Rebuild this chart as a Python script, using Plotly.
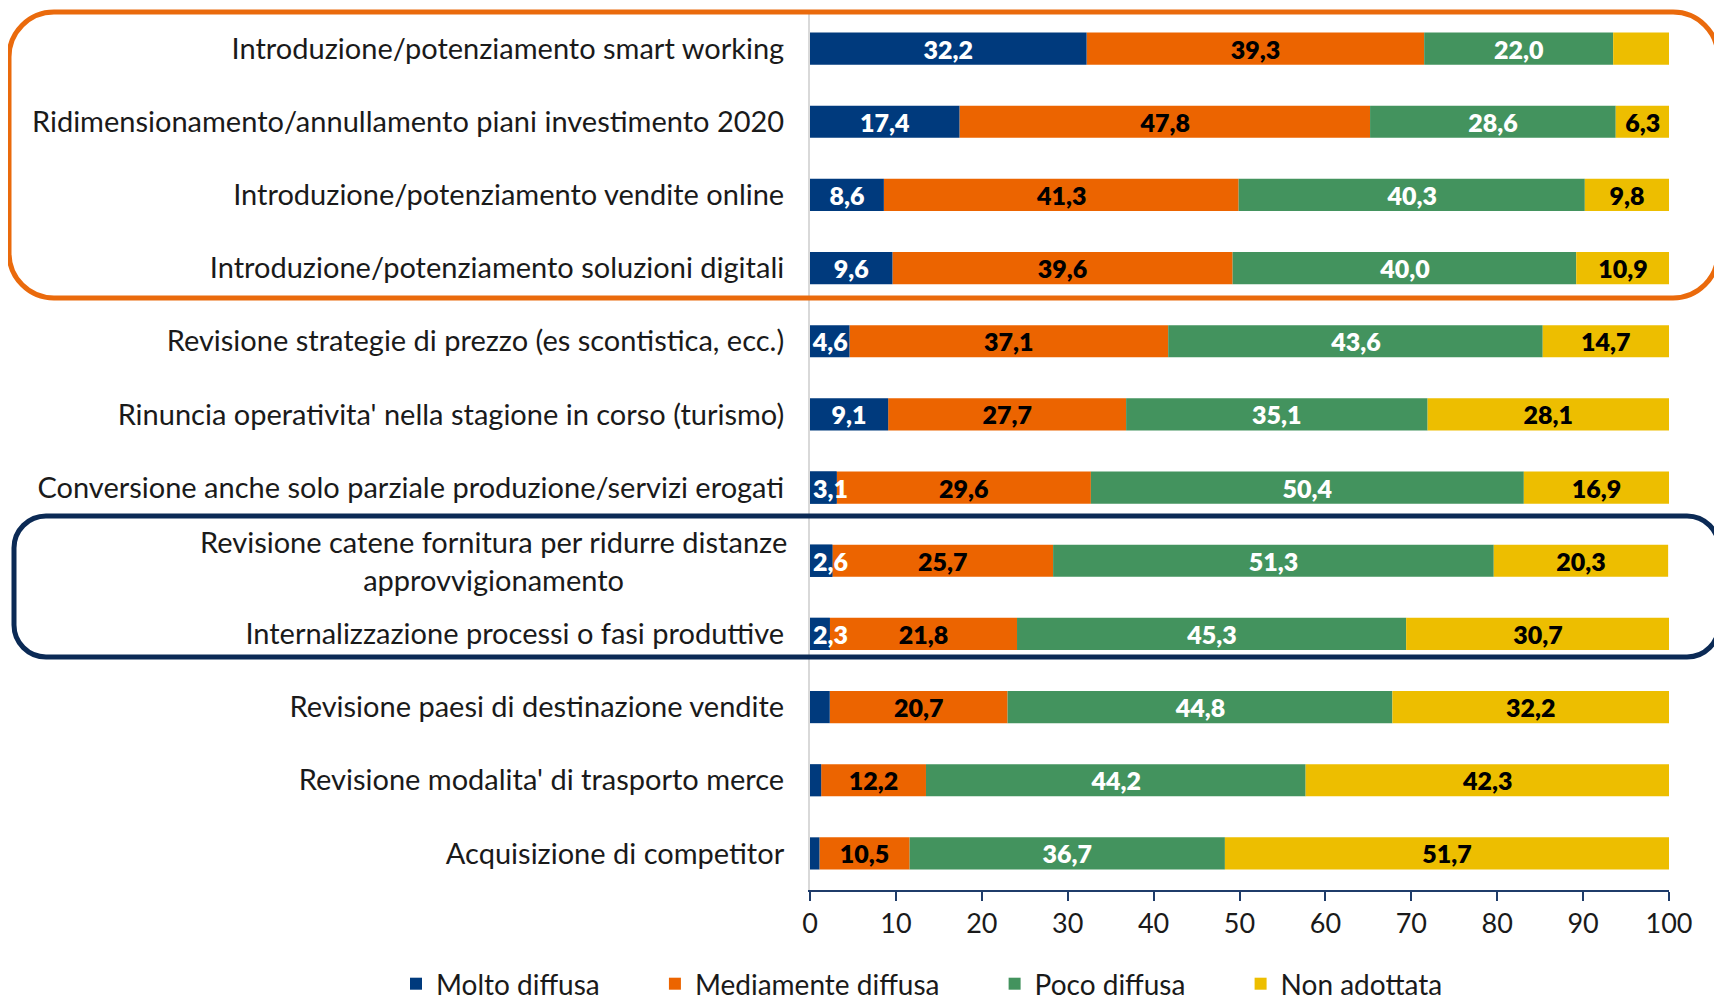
import plotly.graph_objects as go

categories = [
    "Introduzione/potenziamento smart working",
    "Ridimensionamento/annullamento piani investimento 2020",
    "Introduzione/potenziamento vendite online",
    "Introduzione/potenziamento soluzioni digitali",
    "Revisione strategie di prezzo (es scontistica, ecc.)",
    "Rinuncia operativita' nella stagione in corso (turismo)",
    "Conversione anche solo parziale produzione/servizi erogati",
    "Revisione catene fornitura per ridurre distanze<br>approvvigionamento",
    "Internalizzazione processi o fasi produttive",
    "Revisione paesi di destinazione vendite",
    "Revisione modalita' di trasporto merce",
    "Acquisizione di competitor",
]

series_names = ["Molto diffusa", "Mediamente diffusa", "Poco diffusa", "Non adottata"]
molto = [32.2, 17.4, 8.6, 9.6, 4.6, 9.1, 3.1, 2.6, 2.3, 2.3, 1.3, 1.1]
mediamente = [39.3, 47.8, 41.3, 39.6, 37.1, 27.7, 29.6, 25.7, 21.8, 20.7, 12.2, 10.5]
poco = [22.0, 28.6, 40.3, 40.0, 43.6, 35.1, 50.4, 51.3, 45.3, 44.8, 44.2, 36.7]
non_adottata = [6.5, 6.3, 9.8, 10.9, 14.7, 28.1, 16.9, 20.3, 30.7, 32.2, 42.3, 51.7]

# labels not printed in the original: (series index, category index)
hidden_labels = [(3, 0), (0, 9), (0, 10), (0, 11)]

colors = ["#003A7D", "#EC6400", "#43935E", "#EDBE00"]
label_colors = ["white", "black", "white", "black"]

FONT = "Lato"
LABEL_SIZE = 25
NARROW = 4.0  # labels of narrower bars start at the bar's left edge


def fmt(v):
    return f"{v:.1f}".replace(".", ",")


all_series = [molto, mediamente, poco, non_adottata]

# stacked bars with explicit bases, so that the first series (whose labels
# overflow their narrow bars) can be drawn last, on top of the others
bases = []
running = [0.0] * len(categories)
for vals in all_series:
    bases.append(list(running))
    running = [r + v for r, v in zip(running, vals)]

NB = "\u00a0" * 7
legend_names = [series_names[0] + NB, series_names[1] + NB, series_names[2] + NB, series_names[3]]

fig = go.Figure()
for s in [1, 2, 3, 0]:
    vals = all_series[s]
    texts = []
    for c, v in enumerate(vals):
        if (s, c) in hidden_labels or (s == 0 and v < NARROW):
            texts.append("")
        else:
            texts.append(fmt(v))
    fig.add_trace(go.Bar(
        y=categories, x=vals, base=bases[s], name=legend_names[s], orientation="h",
        legendrank=s + 1,
        marker=dict(color=colors[s], line=dict(width=0)),
        text=texts, textposition="inside", insidetextanchor="middle",
        textangle=0, cliponaxis=True,
        textfont=dict(family=FONT, size=LABEL_SIZE, color=label_colors[s], weight=800),
        hoverinfo="skip",
    ))

# narrow labelled first-series bars: drawn again on top, label anchored at the bar start
small_idx = [c for c, v in enumerate(molto) if v < NARROW and (0, c) not in hidden_labels]
fig.add_trace(go.Bar(
    y=[categories[c] for c in small_idx], x=[molto[c] for c in small_idx],
    base=[bases[0][c] for c in small_idx], orientation="h", showlegend=False,
    marker=dict(color=colors[0], line=dict(width=0)),
    text=[fmt(molto[c]) for c in small_idx], textposition="inside", insidetextanchor="start",
    textangle=0, cliponaxis=True,
    textfont=dict(family=FONT, size=LABEL_SIZE, color=label_colors[0], weight=800),
    hoverinfo="skip",
))

# layout in pixels (page body has an 8px margin)
OFF = 8
W, H = 1722 - OFF, 1002 - OFF
ML, MR, MT, MB = 810 - OFF, 53, 12 - OFF, 112
PW, PH = W - ML - MR, H - MT - MB


def px_x(p):
    return (p - OFF - ML) / PW


def px_y(p):
    return (H + OFF - MB - p) / PH


def rounded_path(x0p, y0p, x1p, y1p, r):
    # rectangle given in reference pixels -> paper path with rounded corners
    x0, x1 = px_x(x0p), px_x(x1p)
    y0, y1 = px_y(y0p), px_y(y1p)
    rx, ry = r / PW, r / PH
    k = 0.5523
    return (
        f"M {x0+rx},{y0} L {x1-rx},{y0} "
        f"C {x1-rx+k*rx},{y0} {x1},{y0-ry+k*ry} {x1},{y0-ry} "
        f"L {x1},{y1+ry} "
        f"C {x1},{y1+ry-k*ry} {x1-rx+k*rx},{y1} {x1-rx},{y1} "
        f"L {x0+rx},{y1} "
        f"C {x0+rx-k*rx},{y1} {x0},{y1+ry-k*ry} {x0},{y1+ry} "
        f"L {x0},{y0-ry} "
        f"C {x0},{y0-ry+k*ry} {x0+rx-k*rx},{y0} {x0+rx},{y0} Z"
    )


shapes = [
    dict(type="path", xref="paper", yref="paper", path=rounded_path(9, 12, 1718, 298, 45),
         line=dict(color="#EA6A0C", width=5), layer="above"),
    dict(type="path", xref="paper", yref="paper", path=rounded_path(14, 516, 1719, 657, 32),
         line=dict(color="#0B2A55", width=5), layer="above"),
]

STANDOFF = 18

# two-line label drawn centred, as in the original
ticktext = ["" if "<br>" in c else c for c in categories]
annotations = []
for c in categories:
    if "<br>" in c:
        annotations.append(dict(
            x=px_x(810 - STANDOFF - 3), xref="paper", y=c, yref="y", text=c, showarrow=False,
            xanchor="right", yanchor="middle", align="center",
            font=dict(family=FONT, size=29, color="#1a1a1a"),
        ))

fig.update_layout(
    width=W, height=H,
    margin=dict(l=ML, r=MR, t=MT, b=MB, pad=0, autoexpand=False),
    barmode="overlay", bargap=0.56,
    plot_bgcolor="white", paper_bgcolor="white",
    font=dict(family=FONT, color="#1a1a1a"),
    uniformtext=dict(minsize=LABEL_SIZE, mode="show"),
    showlegend=True,
    legend=dict(orientation="h", x=px_x(396), xanchor="left", y=px_y(959), yanchor="top",
                font=dict(family=FONT, size=28, color="#1a1a1a"), traceorder="normal"),
    shapes=shapes, annotations=annotations,
)
fig.update_yaxes(
    type="category", categoryorder="array", categoryarray=categories,
    range=[len(categories) - 0.5, -0.5], tickvals=categories, ticktext=ticktext,
    showline=True, linecolor="#D9D9D9", linewidth=2, ticks="", showgrid=False,
    tickfont=dict(family=FONT, size=29, color="#1a1a1a"), ticklabelstandoff=STANDOFF,
)
fig.update_xaxes(
    range=[0, 100], dtick=10, tick0=0, ticks="outside", ticklen=9, tickwidth=2,
    tickcolor="#1F3C6A", showline=True, linecolor="#1F3C6A", linewidth=2,
    showgrid=False, zeroline=False,
    tickfont=dict(family=FONT, size=27, color="#1a1a1a"),
)

fig.write_html("out.html")
